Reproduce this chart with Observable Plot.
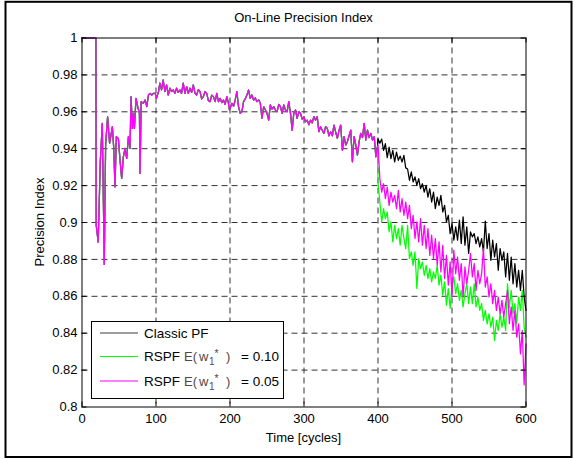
<!DOCTYPE html>
<html><head><meta charset="utf-8">
<script src="https://cdn.jsdelivr.net/npm/d3@7"></script>
<script src="https://cdn.jsdelivr.net/npm/@observablehq/plot@0.6"></script>
<style>html,body{margin:0;padding:0;background:#fff;} svg{display:block}</style>
</head><body><div id="chart"></div>
<script>
// ---- data ----
const seriesNames = ["Classic PF", "RSPF E(w1*) = 0.10", "RSPF E(w1*) = 0.05"];
const seriesColors = ["#000000", "#00ff00", "#ff00ff"];
const xTicks = [0, 100, 200, 300, 400, 500, 600];
const yTicks = [0.8, 0.82, 0.84, 0.86, 0.88, 0.9, 0.92, 0.94, 0.96, 0.98, 1];
const yTickLabels = ["0.8", "0.82", "0.84", "0.86", "0.88", "0.9", "0.92", "0.94", "0.96", "0.98", "1"];

// shared trajectory (all three filters coincide before cycle 400)
const headCycles = [
  0, 18.8, 19.2, 21.9, 24.7, 27.4, 30.1, 31.9, 34.6, 37.3,
  41, 42.8, 44.6, 46.4, 49.1, 51.4, 53.6, 55.9, 58.1, 60.4,
  62.7, 64.9, 66.3, 68.1, 69.5, 70.8, 73, 75.3, 77.6, 78.5,
  79.9, 83, 85.3, 87.5, 89.8, 92, 94.3, 96.5, 98.9, 100.7,
  103.4, 105.2, 107.5, 109.7, 112, 114.3, 116.5, 118.8, 121, 123.3,
  125.5, 127.8, 130, 132.3, 134.5, 136.8, 139.1, 141.4, 143.6, 145.9,
  148.2, 150.4, 152.7, 154.9, 157.2, 159.5, 161.7, 164, 166.3, 168.5,
  170.8, 173.1, 175.3, 177.6, 179.9, 182.1, 184.4, 186.6, 188.9, 191.2,
  193.4, 195.7, 197.5, 199.3, 202.5, 204.8, 207, 209.3, 211.5, 213.8,
  216.1, 218.3, 220.6, 222.8, 225.1, 227.4, 229.6, 231.9, 234.2, 236.4,
  238.7, 241, 243.2, 245.5, 247.8, 250, 252.3, 254.5, 256.8, 259.1,
  261.3, 263.6, 265.9, 268.1, 270.4, 272.6, 274.9, 277.2, 279.4, 281.7,
  284, 286.2, 288.5, 290.7, 293, 295.2, 297.5, 299.8, 302, 304.3,
  306.6, 308.8, 311.1, 313.3, 315.6, 317.9, 320.1, 322.4, 324.7, 326.9,
  329.2, 331.5, 333.7, 336, 338.3, 340.5, 342.8, 345.1, 347.3, 349.6,
  351.9, 354.1, 356.4, 358.6, 360.9, 363.2, 365.4, 367.7, 370, 372.2,
  374.5, 376.7, 379, 381.3, 383.5, 385.8, 388, 390.3, 392.6, 394.9,
  397.1, 399.3
];
const headPrecision = [
  1, 1, 0.8985, 0.8894, 0.9329, 0.9537, 0.8773, 0.9420, 0.9573, 0.9429,
  0.9519, 0.9410, 0.9193, 0.9465, 0.9456, 0.9338, 0.9239, 0.9356, 0.9402, 0.9347,
  0.9465, 0.9402, 0.9682, 0.9510, 0.9592, 0.9510, 0.9673, 0.9628, 0.9592, 0.9266,
  0.9655, 0.9646, 0.9664, 0.9628, 0.9691, 0.9700, 0.9691, 0.9700, 0.9700, 0.9673,
  0.9709, 0.9755, 0.9719, 0.9773, 0.9710, 0.9746, 0.9691, 0.9728, 0.9710, 0.9719,
  0.9700, 0.9728, 0.9705, 0.9718, 0.9700, 0.9755, 0.9700, 0.9737, 0.9700, 0.9728,
  0.9705, 0.9746, 0.9700, 0.9691, 0.9720, 0.9709, 0.9670, 0.9682, 0.9710, 0.9700,
  0.9660, 0.9655, 0.9690, 0.9682, 0.9655, 0.9700, 0.9655, 0.9673, 0.9650, 0.9664,
  0.9640, 0.9682, 0.9655, 0.9610, 0.9646, 0.9630, 0.9664, 0.9709, 0.9628, 0.9592,
  0.9601, 0.9655, 0.9670, 0.9691, 0.9718, 0.9673, 0.9691, 0.9664, 0.9675, 0.9655,
  0.9665, 0.9646, 0.9565, 0.9628, 0.9610, 0.9592, 0.9555, 0.9637, 0.9615, 0.9628,
  0.9610, 0.9601, 0.9640, 0.9628, 0.9592, 0.9637, 0.9610, 0.9601, 0.9655, 0.9592,
  0.9501, 0.9592, 0.9610, 0.9565, 0.9600, 0.9592, 0.9560, 0.9574, 0.9546, 0.9555,
  0.9530, 0.9555, 0.9540, 0.9574, 0.9555, 0.9574, 0.9492, 0.9519, 0.9500, 0.9483,
  0.9520, 0.9510, 0.9470, 0.9492, 0.9470, 0.9528, 0.9490, 0.9456, 0.9500, 0.9528,
  0.9392, 0.9465, 0.9420, 0.9438, 0.9470, 0.9501, 0.9329, 0.9465, 0.9420, 0.9365,
  0.9440, 0.9483, 0.9460, 0.9537, 0.9447, 0.9501, 0.9460, 0.9483, 0.9447, 0.9465,
  0.9356, 0.9411
];

// after cycle 400 the three filters diverge (one reading every 2.5 cycles)
const tailCycles = d3.range(400, 600.01, 2.5);
const tailClassic = [
  0.9454, 0.9430, 0.9452, 0.9391, 0.9427, 0.9352, 0.9409, 0.9346, 0.9391, 0.9328,
  0.9382, 0.9337, 0.9360, 0.9328, 0.9364, 0.9296, 0.9290, 0.9229, 0.9274, 0.9220,
  0.9247, 0.9201, 0.9238, 0.9183, 0.9210, 0.9165, 0.9201, 0.9138, 0.9183, 0.9111,
  0.9165, 0.9075, 0.9138, 0.9093, 0.9147, 0.9057, 0.9093, 0.9003, 0.9039, 0.8940,
  0.8995, 0.8904, 0.8976, 0.8904, 0.9013, 0.8886, 0.9031, 0.8877, 0.8976, 0.8832,
  0.8949, 0.8922, 0.8940, 0.8886, 0.8922, 0.8868, 0.8913, 0.8841, 0.9008, 0.8859,
  0.8940, 0.8795, 0.8904, 0.8813, 0.8886, 0.8741, 0.8859, 0.8795, 0.8841, 0.8705,
  0.8832, 0.8687, 0.8813, 0.8668, 0.8777, 0.8650, 0.8741, 0.8632, 0.8741, 0.8596,
  0.8524
];
const tailRspf10 = [
  0.9220, 0.9111, 0.9003, 0.9075, 0.9021, 0.9057, 0.8949, 0.9003, 0.8895, 0.8985,
  0.8913, 0.8967, 0.8877, 0.8985, 0.8913, 0.8859, 0.8985, 0.8804, 0.8841, 0.8768,
  0.8841, 0.8642, 0.8804, 0.8750, 0.8786, 0.8714, 0.8768, 0.8696, 0.8750, 0.8678,
  0.8732, 0.8696, 0.8768, 0.8660, 0.8714, 0.8606, 0.8678, 0.8552, 0.8642, 0.8534,
  0.8650, 0.8705, 0.8614, 0.8668, 0.8578, 0.8632, 0.8542, 0.8614, 0.8668, 0.8560,
  0.8650, 0.8560, 0.8668, 0.8542, 0.8596, 0.8524, 0.8560, 0.8469, 0.8524, 0.8451,
  0.8505, 0.8433, 0.8487, 0.8361, 0.8469, 0.8415, 0.8505, 0.8433, 0.8487, 0.8415,
  0.8668, 0.8542, 0.8632, 0.8505, 0.8560, 0.8451, 0.8596, 0.8524, 0.8632, 0.8433,
  0.8379
];
const tailRspf05 = [
  0.9420, 0.9238, 0.9165, 0.9210, 0.9129, 0.9192, 0.9093, 0.9165, 0.9111, 0.9147,
  0.9075, 0.9174, 0.9057, 0.9129, 0.9039, 0.9111, 0.9021, 0.9093, 0.8967, 0.9039,
  0.8913, 0.9003, 0.8895, 0.9021, 0.8877, 0.8985, 0.8859, 0.8967, 0.8822, 0.8931,
  0.8804, 0.8913, 0.8768, 0.8895, 0.8732, 0.8877, 0.8696, 0.8822, 0.8660, 0.8786,
  0.8600, 0.8850, 0.8723, 0.8813, 0.8687, 0.8777, 0.8596, 0.8759, 0.8668, 0.8741,
  0.8832, 0.8705, 0.8777, 0.8632, 0.8741, 0.8668, 0.8723, 0.8859, 0.8650, 0.8705,
  0.8596, 0.8668, 0.8560, 0.8632, 0.8524, 0.8596, 0.8505, 0.8578, 0.8487, 0.8560,
  0.8632, 0.8451, 0.8542, 0.8415, 0.8524, 0.8379, 0.8451, 0.8288, 0.8415, 0.8120,
  0.8342
];

// ---- build table ----
const tails = [tailClassic, tailRspf10, tailRspf05];
const rows = [];
seriesNames.forEach((name, i) => {
  headCycles.forEach((c, j) => rows.push({series: name, cycle: c, value: headPrecision[j]}));
  tailCycles.forEach((c, j) => rows.push({series: name, cycle: c, value: tails[i][j]}));
});

const W = 575, H = 459;
const mL = 81.5, mR = 49.5, mT = 37.5, mB = 52.5;
const frameW = W - mL - mR, frameH = H - mT - mB;
const tickLen = 5;
const font = "'Liberation Sans', Arial, Helvetica, sans-serif";
const gridStyle = {stroke: "#333", strokeOpacity: 1, strokeDasharray: "6,4", strokeWidth: 1};

const chart = Plot.plot({
  width: W, height: H,
  marginLeft: mL, marginRight: mR, marginTop: mT, marginBottom: mB,
  x: {domain: [0, 600]},
  y: {domain: [0.8, 1]},
  color: {domain: seriesNames, range: seriesColors},
  style: {fontFamily: font, fontSize: "13px", background: "white", color: "#000", overflow: "visible"},
  marks: [
    Plot.gridX(xTicks.slice(1, -1), gridStyle),
    Plot.gridY(yTicks.slice(1, -1), gridStyle),
    Plot.line(rows, {x: "cycle", y: "value", z: "series", stroke: "series", strokeWidth: 1.25, curve: "linear"}),
    // inward MATLAB-style ticks on all four sides
    Plot.tickX(xTicks, {x: d => d, stroke: "#000", insetTop: frameH - tickLen}),
    Plot.tickX(xTicks, {x: d => d, stroke: "#000", insetBottom: frameH - tickLen}),
    Plot.tickY(yTicks, {y: d => d, stroke: "#000", insetRight: frameW - tickLen}),
    Plot.tickY(yTicks, {y: d => d, stroke: "#000", insetLeft: frameW - tickLen}),
    Plot.frame({stroke: "#000", strokeWidth: 1}),
    Plot.axisX(xTicks, {tickSize: 0, tickPadding: 7, tickFormat: d => String(d), label: null, fill: "#000"}),
    Plot.axisY(yTicks, {tickSize: 0, tickPadding: 4.5, tickFormat: d => yTickLabels[yTicks.indexOf(d)], label: null, fill: "#000"})
  ]
});
document.getElementById("chart").appendChild(chart);

// ---- annotations: outer border, title, axis labels, legend ----
const svg = d3.select(chart);
svg.append("rect").attr("x", 5.5).attr("y", 1.8).attr("width", 566).attr("height", 455.2)
  .attr("fill", "none").attr("stroke", "#000").attr("stroke-width", 2);

const cx = mL + frameW / 2;
const txt = (x, y, s, anchor = "middle") => svg.append("text").attr("x", x).attr("y", y)
  .attr("text-anchor", anchor).attr("font-family", font).attr("font-size", 13).attr("fill", "#000").text(s);
txt(cx, 21.5, "On-Line Precision Index");
txt(cx, 441.5, "Time [cycles]");
svg.append("text").attr("transform", `translate(44,${mT + frameH / 2}) rotate(-90)`)
  .attr("text-anchor", "middle").attr("font-family", font).attr("font-size", 13).attr("fill", "#000")
  .text("Precision Index");

// legend
const lg = svg.append("g").attr("text-anchor", "start");
lg.append("rect").attr("x", 91.5).attr("y", 321.5).attr("width", 192).attr("height", 77)
  .attr("fill", "#fff").attr("stroke", "#000").attr("stroke-width", 1);
const rowsY = [333, 356.5, 381];
const legendColors = ["#3a3a3a", "#00ff00", "#ff00ff"];
const values = ["0.10", "0.05"];
rowsY.forEach((y, i) => {
  lg.append("line").attr("x1", 100).attr("x2", 138).attr("y1", y).attr("y2", y)
    .attr("stroke", legendColors[i]).attr("stroke-width", 1);
});
const ltxt = (x, y, s, fill = "#000", size = 13.5) => lg.append("text").attr("x", x).attr("y", y)
  .attr("text-anchor", "start")
  .attr("font-family", font).attr("font-size", size).attr("fill", fill).text(s);
ltxt(144, rowsY[0] + 4.8, "Classic PF");
[1, 2].forEach(i => {
  const y = rowsY[i] + 4.8;
  const ec = "#54463f";
  ltxt(144, y, "RSPF");
  ltxt(184, y, "E(", ec, 13);
  ltxt(199, y, "w", ec, 13);
  ltxt(209, y + 4, "1", "#5a4670", 10);
  ltxt(214.5, y - 4, "*", ec, 10.5);
  ltxt(226, y, ")", ec, 13);
  ltxt(241, y, "= " + values[i - 1]);
});
</script>
</body></html>
